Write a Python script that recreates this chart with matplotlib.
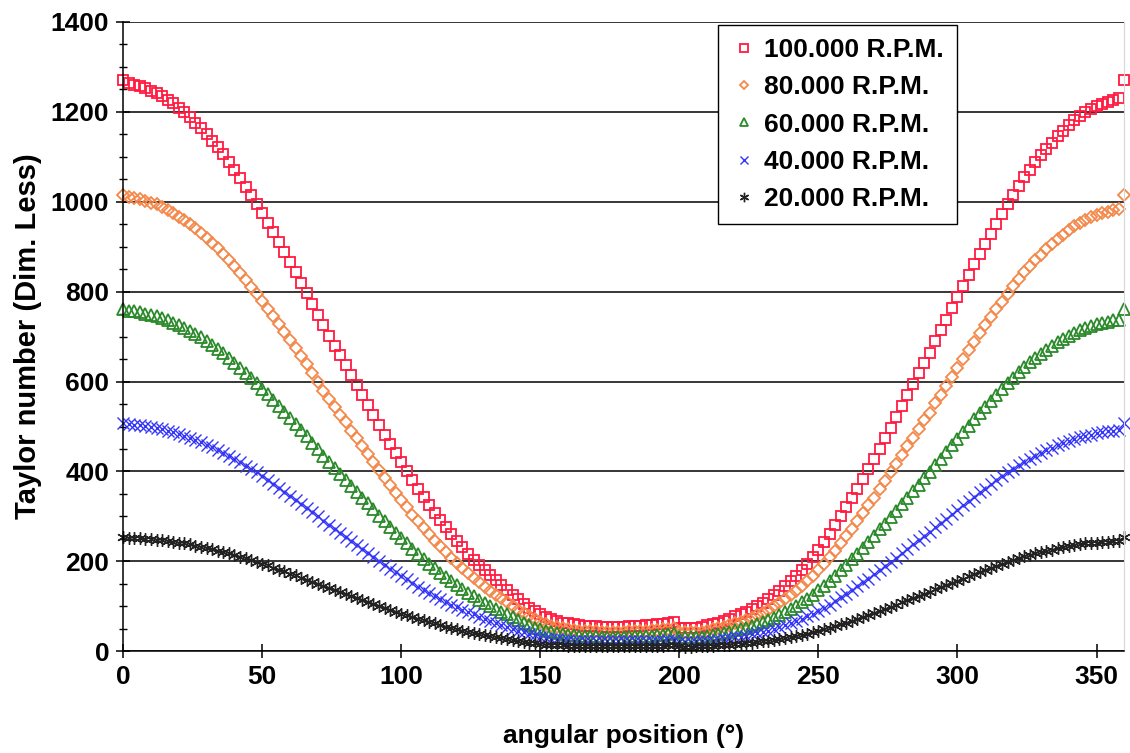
import matplotlib
matplotlib.use("Agg")
import matplotlib.pyplot as plt
from matplotlib.ticker import MultipleLocator

# angular positions, every 2 degrees
angle = list(range(0, 361, 2))

labels = ["100.000 R.P.M.", "80.000 R.P.M.", "60.000 R.P.M.", "40.000 R.P.M.", "20.000 R.P.M."]

ta_100k = [1270, 1263, 1260, 1257, 1252, 1247, 1242, 1235, 1227, 1219,
           1209, 1199, 1188, 1176, 1163, 1150, 1136, 1121, 1105, 1088,
           1070, 1052, 1033, 1014, 994, 974, 953, 932, 910, 888,
           866, 843, 820, 797, 773, 749, 725, 702, 680, 658,
           636, 614, 592, 570, 548, 526, 504, 482, 461, 440,
           420, 400, 380, 361, 343, 325, 308, 292, 276, 260,
           245, 231, 217, 204, 192, 180, 169, 158, 147, 136,
           126, 116, 106, 97, 89, 82, 76, 71, 67, 64,
           62, 60, 58, 57, 56, 56, 55, 55, 55, 55,
           55, 56, 56, 57, 58, 59, 60, 61, 63, 66,
           53, 52, 52, 53, 55, 58, 61, 64, 68, 73,
           78, 83, 88, 94, 101, 108, 116, 125, 135, 145,
           156, 168, 181, 195, 210, 226, 243, 261, 280, 300,
           320, 341, 362, 384, 406, 428, 451, 474, 497, 521,
           545, 570, 594, 618, 642, 664, 690, 714, 738, 763,
           787, 812, 837, 861, 884, 906, 929, 951, 973, 994,
           1015, 1035, 1054, 1071, 1088, 1103, 1117, 1131, 1145, 1158,
           1170, 1181, 1191, 1199, 1206, 1212, 1217, 1222, 1226, 1230,
           1270]

ta_80k = [1016, 1010, 1008, 1006, 1002, 998, 994, 988, 982, 975,
          967, 959, 950, 941, 930, 920, 909, 897, 884, 870,
          856, 842, 826, 811, 795, 779, 762, 746, 728, 710,
          693, 674, 656, 638, 618, 599, 580, 562, 544, 526,
          509, 491, 474, 456, 438, 421, 403, 386, 369, 352,
          336, 320, 304, 289, 274, 260, 246, 234, 221, 208,
          196, 185, 174, 163, 154, 144, 135, 126, 118, 109,
          101, 93, 85, 78, 71, 66, 61, 57, 54, 51,
          50, 48, 46, 46, 45, 45, 44, 44, 44, 44,
          44, 45, 45, 46, 46, 47, 48, 49, 50, 53,
          42, 42, 42, 42, 44, 46, 49, 51, 54, 58,
          62, 66, 70, 75, 81, 86, 93, 100, 108, 116,
          125, 134, 145, 156, 168, 181, 194, 209, 224, 240,
          256, 273, 290, 307, 325, 342, 361, 379, 398, 417,
          436, 456, 475, 494, 514, 531, 552, 571, 590, 610,
          630, 650, 670, 689, 707, 725, 743, 761, 778, 795,
          812, 828, 843, 857, 870, 882, 894, 905, 916, 926,
          936, 945, 953, 959, 965, 970, 974, 978, 981, 984,
          1016]

ta_60k = [762, 758, 756, 754, 751, 748, 745, 741, 736, 731,
          725, 719, 713, 706, 698, 690, 682, 673, 663, 653,
          642, 631, 620, 608, 596, 584, 572, 559, 546, 533,
          520, 506, 492, 478, 464, 449, 435, 421, 408, 395,
          382, 368, 355, 342, 329, 316, 302, 289, 277, 264,
          252, 240, 228, 217, 206, 195, 185, 175, 166, 156,
          147, 139, 130, 122, 115, 108, 101, 95, 88, 82,
          76, 70, 64, 58, 53, 49, 46, 43, 40, 38,
          37, 36, 35, 34, 34, 34, 33, 33, 33, 33,
          33, 34, 34, 34, 35, 35, 36, 37, 38, 40,
          32, 31, 31, 32, 33, 35, 37, 38, 41, 44,
          47, 50, 53, 56, 61, 65, 70, 75, 81, 87,
          94, 101, 109, 117, 126, 136, 146, 157, 168, 180,
          192, 205, 217, 230, 244, 257, 271, 284, 298, 313,
          327, 342, 356, 371, 385, 398, 414, 428, 443, 458,
          472, 487, 502, 517, 530, 544, 557, 571, 584, 596,
          609, 621, 632, 643, 653, 662, 670, 679, 687, 695,
          702, 709, 715, 719, 724, 727, 730, 733, 736, 738,
          762]

ta_40k = [508, 505, 504, 503, 501, 499, 497, 494, 491, 488,
          484, 480, 475, 470, 465, 460, 454, 448, 442, 435,
          428, 421, 413, 406, 398, 390, 381, 373, 364, 355,
          346, 337, 328, 319, 309, 300, 290, 281, 272, 263,
          254, 246, 237, 228, 219, 210, 202, 193, 184, 176,
          168, 160, 152, 144, 137, 130, 123, 117, 110, 104,
          98, 92, 87, 82, 77, 72, 68, 63, 59, 54,
          50, 46, 42, 39, 36, 33, 30, 28, 27, 26,
          25, 24, 23, 23, 22, 22, 22, 22, 22, 22,
          22, 22, 22, 23, 23, 24, 24, 24, 25, 26,
          21, 21, 21, 21, 22, 23, 24, 26, 27, 29,
          31, 33, 35, 38, 40, 43, 46, 50, 54, 58,
          62, 67, 72, 78, 84, 90, 97, 104, 112, 120,
          128, 136, 145, 154, 162, 171, 180, 190, 199, 208,
          218, 228, 238, 247, 257, 266, 276, 286, 295, 305,
          315, 325, 335, 344, 354, 362, 372, 380, 389, 398,
          406, 414, 422, 428, 435, 441, 447, 452, 458, 463,
          468, 472, 476, 480, 482, 485, 487, 489, 490, 492,
          508]

ta_20k = [254, 253, 252, 251, 250, 249, 248, 247, 245, 244,
          242, 240, 238, 235, 233, 230, 227, 224, 221, 218,
          214, 210, 207, 203, 199, 195, 191, 186, 182, 178,
          173, 169, 164, 159, 155, 150, 145, 140, 136, 132,
          127, 123, 118, 114, 110, 105, 101, 96, 92, 88,
          84, 80, 76, 72, 69, 65, 62, 58, 55, 52,
          49, 46, 43, 41, 38, 36, 34, 32, 29, 27,
          25, 23, 21, 19, 18, 16, 15, 14, 13, 13,
          12, 12, 12, 11, 11, 11, 11, 11, 11, 11,
          11, 11, 11, 11, 12, 12, 12, 12, 13, 13,
          11, 10, 10, 11, 11, 12, 12, 13, 14, 15,
          16, 17, 18, 19, 20, 22, 23, 25, 27, 29,
          31, 34, 36, 39, 42, 45, 49, 52, 56, 60,
          64, 68, 72, 77, 81, 86, 90, 95, 99, 104,
          109, 114, 119, 124, 128, 133, 138, 143, 148, 153,
          157, 162, 167, 172, 177, 181, 186, 190, 195, 199,
          203, 207, 211, 214, 218, 221, 223, 226, 229, 232,
          234, 236, 238, 240, 241, 242, 243, 244, 245, 246,
          254]

series = [ta_100k, ta_80k, ta_60k, ta_40k, ta_20k]
colors = ["#FF1A40", "#F4884A", "#2A8A2A", "#3535F5", "#222222"]
markers = ["s", "D", "^", "x", (6, 2, 0)]
sizes = [7.5, 6, 8, 8.5, 9]

plt.rcParams["font.family"] = ["Liberation Sans", "DejaVu Sans"]
plt.rcParams["font.weight"] = "bold"

fig = plt.figure(figsize=(11.3, 7.53), dpi=100)
ax = fig.add_axes([0.109, 0.135, 0.886, 0.836])

handles = []
for vals, col, mk, ms, lab in zip(series, colors, markers, sizes, labels):
    if mk in ("x", (6, 2, 0)):
        h, = ax.plot(angle, vals, linestyle="none", marker=mk, markersize=ms,
                     color=col, markeredgewidth=1.0, label=lab, clip_on=False)
    else:
        h, = ax.plot(angle, vals, linestyle="none", marker=mk, markersize=ms,
                     markerfacecolor="none", markeredgecolor=col,
                     markeredgewidth=1.3, label=lab, clip_on=False)
    handles.append(h)

ax.set_xlim(0, 360)
ax.set_ylim(0, 1400)
ax.xaxis.set_major_locator(MultipleLocator(50))
ax.yaxis.set_major_locator(MultipleLocator(200))
ax.yaxis.set_minor_locator(MultipleLocator(50))

ax.yaxis.grid(True, which="major", color="black", linewidth=1.1)
ax.set_axisbelow(True)
for gl in ax.get_ygridlines()[-1:]:
    gl.set_visible(False)

ax.spines["top"].set_visible(False)
ax.spines["right"].set_color("#d8d8d8")
ax.spines["left"].set_linewidth(1.1)
ax.spines["bottom"].set_linewidth(1.1)

ax.tick_params(axis="both", which="major", direction="inout", length=10, width=1.1,
               labelsize=19, pad=5)
ax.tick_params(axis="y", which="minor", direction="inout", length=6, width=1.0)
ax.tick_params(axis="x", which="minor", bottom=False)
for t in ax.get_xticklabels() + ax.get_yticklabels():
    t.set_fontweight("bold")

ax.set_xlabel("angular position (°)", fontsize=19, fontweight="bold", labelpad=25)
ax.set_ylabel("Taylor number (Dim. Less)", fontsize=21, fontweight="bold", labelpad=6)

leg = ax.legend(handles=handles, loc="upper left",
                bbox_to_anchor=(718 / 1130, 1 - 25 / 753),
                bbox_transform=fig.transFigure, borderaxespad=0,
                fancybox=False, framealpha=1, edgecolor="black",
                prop={"weight": "bold", "size": 19},
                handlelength=0.95, handletextpad=0.3, labelspacing=0.5,
                borderpad=0.5, markerscale=0.75)
leg.get_frame().set_linewidth(1.0)

fig.savefig("out.png", dpi=100)
